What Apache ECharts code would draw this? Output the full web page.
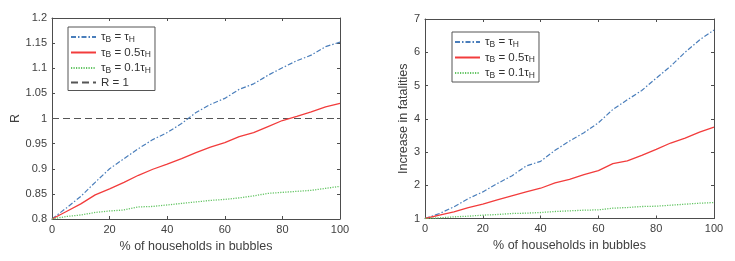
<!DOCTYPE html>
<html><head><meta charset="utf-8">
<script src="https://cdn.jsdelivr.net/npm/echarts@6/dist/echarts.min.js"></script>
<style>html,body{margin:0;padding:0;background:#fff}#c{width:735px;height:261px}</style>
</head><body><div id="c"></div>
<script>
const xPct = [0,5,10,15,20,25,30,35,40,45,50,55,60,65,70,75,80,85,90,95,100];
// Left panel: R
const rTauH  = [0.8,0.822,0.845,0.873,0.9,0.92,0.94,0.958,0.972,0.99,1.012,1.028,1.04,1.058,1.069,1.086,1.101,1.115,1.126,1.143,1.152];
const rTau05 = [0.8,0.815,0.83,0.848,0.86,0.873,0.887,0.899,0.909,0.92,0.932,0.943,0.952,0.964,0.972,0.984,0.996,1.004,1.013,1.023,1.03];
const rTau01 = [0.8,0.805,0.808,0.813,0.816,0.818,0.824,0.825,0.828,0.831,0.834,0.837,0.839,0.842,0.846,0.851,0.853,0.855,0.857,0.861,0.865];
const rRef = [1,1];
const rRefX = [0,100];
// Right panel: increase in fatalities
const fTauH  = [1,1.15,1.35,1.6,1.8,2.05,2.28,2.58,2.72,3.05,3.33,3.58,3.88,4.28,4.57,4.85,5.22,5.58,6.0,6.37,6.67];
const fTau05 = [1,1.1,1.2,1.33,1.43,1.56,1.68,1.8,1.91,2.07,2.18,2.32,2.44,2.65,2.73,2.9,3.08,3.27,3.42,3.6,3.75];
const fTau01 = [1,1.02,1.05,1.07,1.1,1.12,1.15,1.16,1.18,1.21,1.23,1.25,1.26,1.31,1.33,1.36,1.37,1.4,1.43,1.46,1.48];
const xTitle = '% of households in bubbles';
const yTitleL = 'R';
const yTitleR = 'Increase in fatalities';

const FONT = 'Liberation Sans';
const AX = '#4d4d4d';
const LBL = '#404040';
const cBlue = '#4a7ebb', cRed = '#f23c3c', cGreen = '#62c462', cGrey = '#555555';
const stBlue = {color:cBlue, width:1.2, type:[5,2,1.5,2]};
const stRed = {color:cRed, width:1.3, type:'solid'};
const stGreen = {color:cGreen, width:1.3, type:[1.2,1.3]};
const stGrey = {color:cGrey, width:1.2, type:[7,4]};

const zip = (xs, ys) => xs.map((x,i)=>[x, ys[i]]);
const fmt = v => String(+(+v).toFixed(2));

function xAx(grid, pos, show){
  return {type:'value', gridIndex:grid, position:pos, min:0, max:100, interval:20,
    axisLine:{show:true, onZero:false, lineStyle:{color:AX, width:1}},
    axisTick:{show:true, inside:true, length:3, lineStyle:{color:AX}},
    axisLabel:{show:show, color:LBL, fontFamily:FONT, fontSize:11, margin:5},
    splitLine:{show:false},
    name: show ? xTitle : '', nameLocation:'middle', nameGap:16,
    nameTextStyle:{color:LBL, fontFamily:FONT, fontSize:12.5}};
}
function yAx(grid, pos, show, min, max, iv, name, gap){
  return {type:'value', gridIndex:grid, position:pos, min:min, max:max, interval:iv,
    axisLine:{show:true, onZero:false, lineStyle:{color:AX, width:1}},
    axisTick:{show:true, inside:true, length:3, lineStyle:{color:AX}},
    axisLabel:{show:show, color:LBL, fontFamily:FONT, fontSize:11, margin:5, formatter:fmt},
    splitLine:{show:false},
    name: show ? name : '', nameLocation:'middle', nameGap:gap,
    nameTextStyle:{color:LBL, fontFamily:FONT, fontSize:12.5}};
}

const legendText = {
  tauH: '{t|τ}{s|B}{t| = τ}{s|H}',
  tau05: '{t|τ}{s|B}{t| = 0.5τ}{s|H}',
  tau01: '{t|τ}{s|B}{t| = 0.1τ}{s|H}',
  R1: '{t|R = 1}'
};
const rich = {
  t:{fontFamily:FONT, fontSize:11.5, color:'#333', lineHeight:13},
  s:{fontFamily:FONT, fontSize:8.5, color:'#333', padding:[5,0,0,0], lineHeight:13}
};
function legend(left, top, names){
  return {show:true, orient:'vertical', left:left, top:top, data:names,
    backgroundColor:'#fff', borderColor:'#555', borderWidth:1, borderRadius:0,
    padding:[3,4,2,2], itemWidth:25, itemHeight:10, itemGap:1.5,
    itemStyle:{opacity:0},
    formatter: n => legendText[n], textStyle:{rich:rich}, selectedMode:false};
}

function line(name, xi, yi, data, st){
  return {type:'line', name:name, xAxisIndex:xi, yAxisIndex:yi, data:data,
    symbol:'none', showSymbol:false, lineStyle:st, itemStyle:{color:st.color},
    emphasis:{disabled:true}, animation:false, z: name==='R1'?1:2};
}

const chart = echarts.init(document.getElementById('c'), null, {renderer:'canvas'});
chart.setOption({
  animation:false,
  backgroundColor:'#fff',
  grid:[
    {left:52, top:18, width:288, height:201, outerBoundsMode:'none', containLabel:false},
    {left:425, top:19, width:289, height:199.5, outerBoundsMode:'none', containLabel:false}
  ],
  xAxis:[xAx(0,'bottom',true), xAx(0,'top',false), xAx(1,'bottom',true), xAx(1,'top',false)],
  yAxis:[
    yAx(0,'left',true,0.8,1.2,0.05,yTitleL,24),
    yAx(0,'right',false,0.8,1.2,0.05,'',0),
    yAx(1,'left',true,1,7,1,yTitleR,11),
    yAx(1,'right',false,1,7,1,'',0)
  ],
  legend:[
    legend(68, 27, ['tauH','tau05','tau01','R1']),
    legend(452, 32, ['tauH','tau05','tau01'])
  ],
  series:[
    line('R1', 0, 0, zip(rRefX, rRef), stGrey),
    line('tauH', 0, 0, zip(xPct, rTauH), stBlue),
    line('tau05', 0, 0, zip(xPct, rTau05), stRed),
    line('tau01', 0, 0, zip(xPct, rTau01), stGreen),
    line('tauH', 2, 2, zip(xPct, fTauH), stBlue),
    line('tau05', 2, 2, zip(xPct, fTau05), stRed),
    line('tau01', 2, 2, zip(xPct, fTau01), stGreen)
  ]
});
</script></body></html>
